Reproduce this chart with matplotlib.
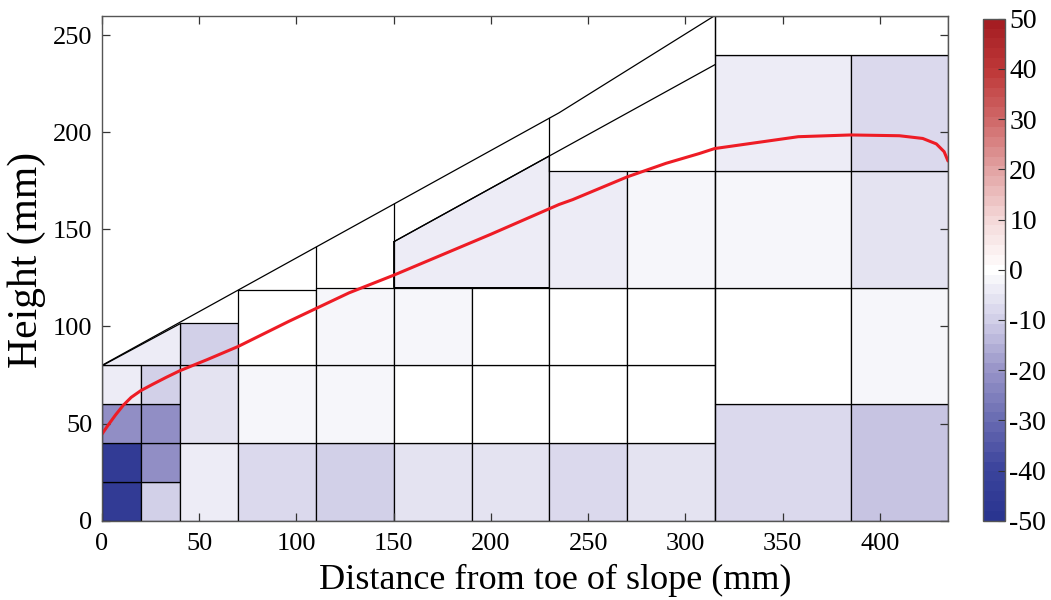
import matplotlib
matplotlib.use("Agg")
import matplotlib.pyplot as plt
import numpy as np
from matplotlib.colors import LinearSegmentedColormap, Normalize
from matplotlib.cm import ScalarMappable

plt.rcParams['font.family'] = ['Liberation Serif', 'DejaVu Serif']
plt.rcParams['axes.unicode_minus'] = False

# ---- rectangular cells: x0, x1, y0, y1, value ----
cell_x0 = [0, 0, 0, 0, 20, 20, 20, 20,
           40, 40, 40, 70, 70, 70, 110, 110, 110,
           150, 150, 150, 190, 190, 190,
           230, 230, 230, 230, 270, 270, 270, 270,
           315, 315, 315, 315, 385, 385, 385, 385, 315]
cell_x1 = [20, 20, 20, 20, 40, 40, 40, 40,
           70, 70, 70, 110, 110, 110, 150, 150, 150,
           190, 190, 190, 230, 230, 230,
           270, 270, 270, 270, 315, 315, 315, 315,
           385, 385, 385, 385, 435, 435, 435, 435, 435]
cell_y0 = [0, 20, 40, 60, 0, 20, 40, 60,
           0, 40, 80, 0, 40, 80, 0, 40, 80,
           0, 40, 80, 0, 40, 80,
           0, 40, 80, 120, 0, 40, 80, 120,
           0, 60, 120, 180, 0, 60, 120, 180, 240]
cell_y1 = [20, 40, 60, 80, 20, 40, 60, 80,
           40, 80, 102, 40, 80, 119, 40, 80, 120,
           40, 80, 120, 40, 80, 120,
           40, 80, 120, 180, 40, 80, 120, 180,
           60, 120, 180, 240, 60, 120, 180, 240, 260]
cell_val = [-45, -45, -21, -3, -10, -21, -21, -9,
            -3, -6, -10, -7, -2, 0, -9, -2, -2,
            -6, 0, -2, -6, 0, 0,
            -7, 0, 0, -4, -5, 0, 0, -2,
            -7, 0, -2, -4, -11, -2, -6, -8, 0]

# ---- polygonal cells under the slope ----
tri_x = [0, 40, 40]
tri_y = [80, 80, 102]
tri_val = -3
wedge_x = [150, 230, 230, 150]
wedge_y = [120, 120, 187.8, 143.6]
wedge_val = -4

# ---- slope outlines ----
slope_x = [0, 235, 315]
slope_y = [80, 210, 260]
inner_x = [150, 315]
inner_y = [143.6, 234.7]
# vertical dividers reaching up to the slope: x, y_bottom, y_top
div_x = [110, 150, 230, 315]
div_y0 = [120, 120, 180, 0]
div_y1 = [141, 163.2, 207.5, 260]

# ---- red curve ----
curve_x = [0, 3, 7, 11, 15, 20, 26, 33, 40, 54, 70, 96, 127, 150, 200, 235,
           242, 270, 290, 307, 315, 358, 385, 410, 422, 429, 433, 435]
curve_y = [44.6, 49.0, 54.5, 59.5, 63.5, 67.0, 70.2, 73.8, 77.2, 82.9, 89.7,
           102.6, 117.3, 126.4, 147.5, 162.8, 165.3, 177, 184, 189.0, 191.6,
           197.7, 198.6, 198.2, 196.8, 194.0, 190.0, 185.2]

cbar_ticks = list(range(-50, 51, 10))

cmap = LinearSegmentedColormap.from_list(
    "bwr_custom",
    [(0.0, '#2a3590'), (0.1, '#3d459d'), (0.3, '#9a96c9'), (0.4, '#d2d0e8'),
     (0.5, '#ffffff'), (0.6, '#f4d9d9'), (0.7, '#e3a5a5'), (0.8, '#d06b6b'),
     (0.9, '#bf3a3a'), (1.0, '#a51d22')], N=51)
norm = Normalize(vmin=-50, vmax=50)

fig = plt.figure(figsize=(10.51, 6), dpi=100)
ax = fig.add_axes([102 / 1051, 79.3 / 600, 846 / 1051, 505 / 600])

lw = 0.9
x0 = np.array(cell_x0, float)
x1 = np.array(cell_x1, float)
y0 = np.array(cell_y0, float)
y1 = np.array(cell_y1, float)
cols = [cmap(norm(v)) for v in cell_val]
ax.bar(x0, y1 - y0, width=x1 - x0, bottom=y0, align='edge', color=cols,
       edgecolor='black', linewidth=lw, zorder=1)
ax.fill(tri_x, tri_y, facecolor=cmap(norm(tri_val)), edgecolor='black',
        linewidth=lw, zorder=1)
ax.fill(wedge_x, wedge_y, facecolor=cmap(norm(wedge_val)), edgecolor='black',
        linewidth=lw, zorder=1)

ax.plot(slope_x, slope_y, color='black', lw=lw, zorder=2)
ax.plot(inner_x, inner_y, color='black', lw=lw, zorder=2)
for dx, a, b in zip(div_x, div_y0, div_y1):
    ax.plot([dx, dx], [a, b], color='black', lw=lw, zorder=2)

ax.plot(curve_x, curve_y, color='#ee1c25', lw=2.2, zorder=3,
        solid_capstyle='round', solid_joinstyle='round')

ax.set_xlim(0, 435)
ax.set_ylim(0, 260)
ax.set_xticks(range(0, 401, 50))
ax.set_yticks(range(0, 251, 50))
ax.tick_params(direction='in', length=6, width=0.9, top=True, right=True,
               labelsize=19, colors='#333333', labelcolor='black')
ax.tick_params(axis='x', pad=9)
ax.tick_params(axis='y', pad=7)
for s in ax.spines.values():
    s.set_color('#555555')
    s.set_linewidth(1.0)
    s.set_zorder(4)

ax.set_xlabel('Distance from toe of slope (mm)', fontsize=26)
ax.xaxis.set_label_coords((555 - 102) / 846, -0.085)
ax.set_ylabel('Height (mm)', fontsize=30)
ax.yaxis.set_label_coords(-0.066, 0.516)

cax = fig.add_axes([983 / 1051, 79.3 / 600, 22 / 1051, 502 / 600])
cb = fig.colorbar(ScalarMappable(norm=norm, cmap=cmap), cax=cax,
                  ticks=cbar_ticks)
cb.ax.tick_params(direction='in', length=5, width=0.8, labelsize=20,
                  colors='#333333', labelcolor='black', pad=3)
cb.outline.set_edgecolor('#555555')
cb.outline.set_linewidth(1.0)

fig.savefig('out.png', dpi=100)
